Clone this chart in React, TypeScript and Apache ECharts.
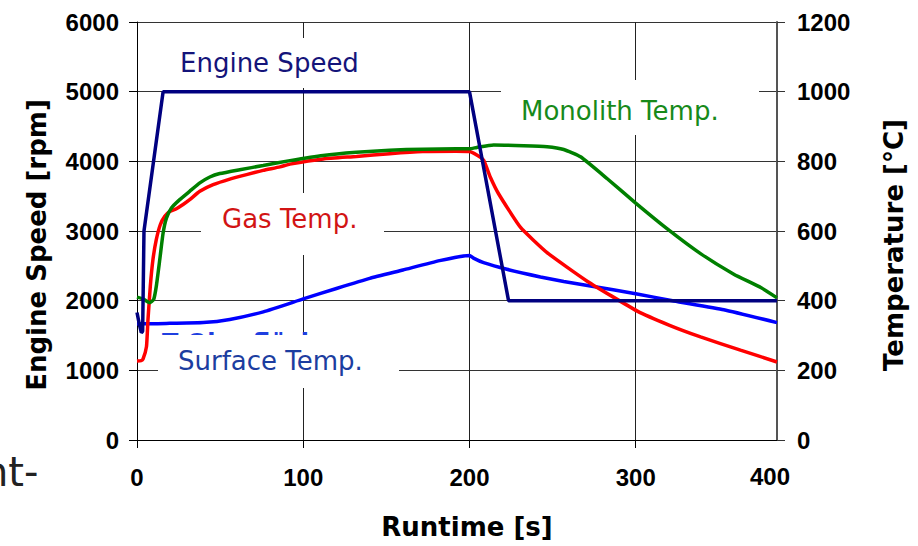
import React, { useEffect, useRef } from "react";
import * as echarts from "echarts";

// Runtime axis (s): the plotted range ends at the right axis
const runtimeMin = 0;
const runtimeMax = 385;
const runtimeStep = 100;
const runtimeEndLabel = "400";

// Left axis: engine speed (rpm)
const speedMin = 0;
const speedMax = 6000;
const speedStep = 1000;

// Right axis: temperature (°C)
const tempMin = 0;
const tempMax = 1200;
const tempStep = 200;

// [runtime s, rpm]
const engineSpeed: [number, number][] = [
  [0, 1830], [1.5, 1650], [2.6, 1540], [3.4, 1560], [4.2, 3000], [15.7, 5000],
  [200, 5000], [223.5, 2000], [385, 2000],
];

// [runtime s, °C]
const monolithTemp: [number, number][] = [
  [0, 410], [3.6, 405], [7.6, 394], [10, 403], [11.6, 441], [13.7, 518], [15.7, 594],
  [17.7, 637], [20.7, 666], [25.7, 690], [31.7, 714], [37.8, 738], [43.8, 755],
  [49.8, 765], [61.8, 776], [75.9, 788], [92, 802], [112, 817], [132, 826], [152, 832],
  [172, 835], [192, 836], [200, 836], [204.4, 840], [214.5, 847], [232.6, 845],
  [246.7, 842], [256.7, 834], [266.8, 813], [282.9, 750], [300, 680], [319, 606],
  [339, 535], [359, 476], [375.5, 437], [385, 408],
];

const gasTemp: [number, number][] = [
  [0, 227], [2.5, 228], [3.6, 232], [5.7, 268], [6.6, 345], [8, 441], [9.6, 518],
  [11.6, 575], [14, 618], [16.7, 642], [19.7, 656], [23.7, 664], [27.7, 676],
  [31.7, 690], [37.8, 714], [45.8, 733], [55.8, 749], [65.9, 762], [75.9, 774],
  [86, 784], [92, 792], [112, 807], [132, 814], [152, 822], [172, 828], [192, 829],
  [200, 828], [204.4, 818], [208.5, 803], [212.5, 755], [217.5, 707], [230.6, 611],
  [246.7, 538], [270.8, 456], [301, 370], [320, 330], [339, 296], [363, 258], [385, 224],
];

const surfaceTemp: [number, number][] = [
  [0, 334], [10, 334], [19.7, 335], [39.8, 337], [55.8, 346], [76, 368], [100, 405],
  [120, 435], [140, 464], [160, 488], [182, 515], [200, 530], [202.4, 522],
  [208.5, 509], [222.5, 490], [242.7, 468], [256.7, 455], [272.8, 442], [300, 420],
  [323, 399], [353, 374], [385, 337],
];

const TICK_FONT = '"Liberation Sans", Arial, sans-serif';
const TITLE_FONT = '"DejaVu Sans", Verdana, sans-serif';

const plain = (v: number) => String(v);

export default function App() {
  const ref = useRef<HTMLDivElement>(null);

  useEffect(() => {
    if (!ref.current) return;
    const chart = echarts.init(ref.current, undefined, { renderer: "svg" });

    const lineSeries = (name: string, data: [number, number][], color: string, yAxisIndex: number, smooth: number | false) => ({
      name,
      type: "line",
      data,
      yAxisIndex,
      showSymbol: false,
      symbol: "none",
      smooth,
      lineStyle: { color, width: 3.5 },
      z: 5,
      silent: true,
    });

    const labelText = (text: string, x: number, y: number, color: string) => ({
      type: "text",
      x,
      y,
      z: 6,
      style: {
        text,
        font: `26px ${TITLE_FONT}`,
        fill: color,
        align: "left",
        verticalAlign: "middle",
      },
    });

    const whiteBox = (x: number, y: number, width: number, height: number) => ({
      type: "rect",
      z: 3,
      shape: { x, y, width, height },
      style: { fill: "#ffffff" },
    });

    chart.setOption({
      animation: false,
      backgroundColor: "#ffffff",
      grid: { left: 137, right: 141, top: 22, bottom: 106, containLabel: false },
      xAxis: {
        type: "value",
        min: runtimeMin,
        max: runtimeMax,
        interval: runtimeStep,
        name: "Runtime [s]",
        nameLocation: "middle",
        nameGap: 74,
        nameTextStyle: {
          fontFamily: TITLE_FONT,
          fontWeight: "bold",
          fontSize: 26,
          color: "#000",
          padding: [0, 0, 0, 20],
        },
        axisLine: { show: true, lineStyle: { color: "#000", width: 1 } },
        axisTick: { show: true, inside: false, length: 8, lineStyle: { color: "#000" } },
        axisLabel: {
          showMaxLabel: false,
          margin: 25,
          formatter: plain,
          fontFamily: TICK_FONT,
          fontWeight: "bold",
          fontSize: 24,
          color: "#000",
        },
        splitLine: { show: true, lineStyle: { color: "#222", width: 1 } },
      },
      yAxis: [
        {
          type: "value",
          position: "left",
          min: speedMin,
          max: speedMax,
          interval: speedStep,
          name: "Engine Speed [rpm]",
          nameLocation: "middle",
          nameRotate: 90,
          nameGap: 87,
          nameTextStyle: {
            fontFamily: TITLE_FONT,
            fontWeight: "bold",
            fontSize: 26,
            color: "#000",
            padding: [0, 28, 0, 0],
          },
          axisLine: { show: true, lineStyle: { color: "#000", width: 1 } },
          axisTick: { show: true, inside: false, length: 8, lineStyle: { color: "#000" } },
          axisLabel: {
            margin: 18,
            formatter: plain,
            fontFamily: TICK_FONT,
            fontWeight: "bold",
            fontSize: 24,
            color: "#000",
          },
          splitLine: { show: true, lineStyle: { color: "#333", width: 1 } },
        },
        {
          type: "value",
          position: "right",
          min: tempMin,
          max: tempMax,
          interval: tempStep,
          name: "Temperature [°C]",
          nameLocation: "middle",
          nameRotate: 90,
          nameGap: 104,
          nameTextStyle: {
            fontFamily: TITLE_FONT,
            fontWeight: "bold",
            fontSize: 26,
            color: "#000",
            padding: [0, 28, 0, 0],
          },
          axisLine: { show: true, lineStyle: { color: "#555", width: 2 } },
          axisTick: { show: true, inside: false, length: 8, lineStyle: { color: "#333" } },
          axisLabel: {
            margin: 20,
            formatter: plain,
            fontFamily: TICK_FONT,
            fontWeight: "bold",
            fontSize: 24,
            color: "#000",
          },
          splitLine: { show: false },
        },
      ],
      series: [
        lineSeries("Surface Temp.", surfaceTemp, "#0000ff", 1, 0.15),
        lineSeries("Gas Temp.", gasTemp, "#ff0000", 1, 0.15),
        lineSeries("Monolith Temp.", monolithTemp, "#008000", 1, 0.15),
        lineSeries("Engine Speed", engineSpeed, "#000080", 0, false),
      ],
      graphic: [
        {
          type: "text",
          x: 162,
          y: 343,
          z: 2,
          style: {
            text: "T Oberfläche",
            font: `bold 24px ${TITLE_FONT}`,
            fill: "#1f3fe0",
            align: "left",
            verticalAlign: "middle",
          },
        },
        whiteBox(160, 38, 220, 50),
        whiteBox(501, 80, 258, 55),
        whiteBox(201, 193, 183, 62),
        whiteBox(158, 335, 241, 53),
        labelText("Engine Speed", 180, 63, "#14147a"),
        labelText("Monolith Temp.", 521, 111, "#178a1a"),
        labelText("Gas Temp.", 222, 219, "#d21414"),
        labelText("Surface Temp.", 178, 361, "#1c3da0"),
        {
          type: "text",
          x: 770,
          y: 476,
          z: 6,
          style: {
            text: runtimeEndLabel,
            font: `bold 24px ${TICK_FONT}`,
            fill: "#000",
            align: "center",
            verticalAlign: "middle",
          },
        },
        {
          type: "text",
          x: -17,
          y: 472,
          z: 6,
          style: {
            text: "nt-",
            font: `40px ${TITLE_FONT}`,
            fill: "#222",
            align: "left",
            verticalAlign: "middle",
          },
        },
      ],
    });

    return () => chart.dispose();
  }, []);

  return (
    <div
      ref={ref}
      style={{ position: "fixed", left: 0, top: 0, width: 918, height: 546, background: "#fff" }}
    />
  );
}
